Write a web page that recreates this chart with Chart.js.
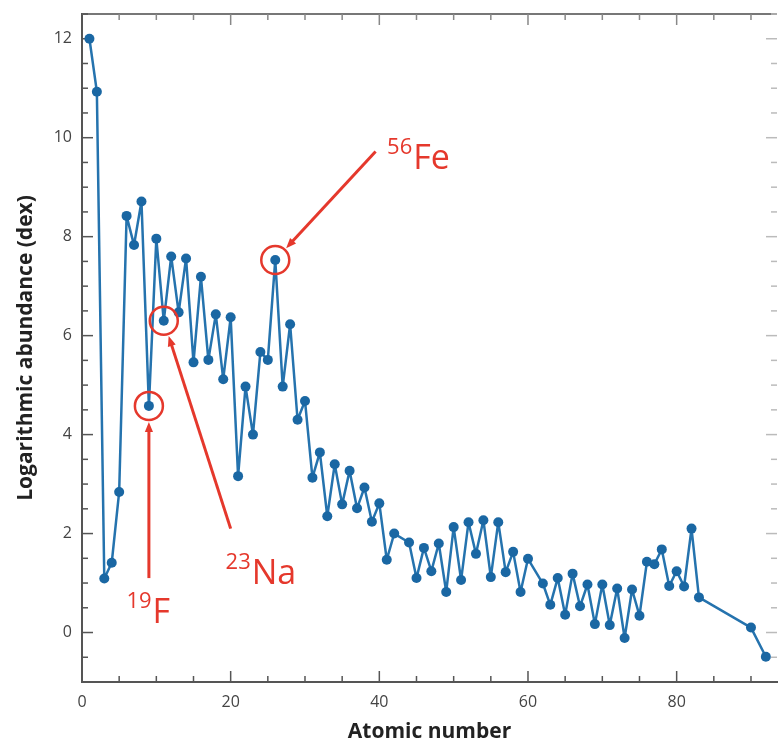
<!DOCTYPE html>
<html>
<head>
<meta charset="utf-8">
<script src="https://cdn.jsdelivr.net/npm/chart.js@4/dist/chart.umd.min.js"></script>
<style>
  html, body { margin: 0; padding: 0; background: #fff; }
  #wrap { width: 782px; height: 745px; }
</style>
</head>
<body>
<div id="wrap"><canvas id="myChart" width="782" height="745"></canvas></div>
<script>
'use strict';

// *******Data*******
let atomicNumbers = [1, 2, 3, 4, 5, 6, 7, 8, 9, 10,
  11, 12, 13, 14, 15, 16, 17, 18, 19, 20,
  21, 22, 23, 24, 25, 26, 27, 28, 29, 30,
  31, 32, 33, 34, 35, 36, 37, 38, 39, 40,
  41, 42, 44, 45, 46, 47, 48, 49, 50,
  51, 52, 53, 54, 55, 56, 57, 58, 59, 60,
  62, 63, 64, 65, 66, 67, 68, 69, 70,
  71, 72, 73, 74, 75, 76, 77, 78, 79, 80,
  81, 82, 83, 90, 92];

let abundances = [12.00, 10.93, 1.09, 1.41, 2.84, 8.42, 7.83, 8.71, 4.58, 7.96,
  6.30, 7.60, 6.47, 7.56, 5.46, 7.19, 5.51, 6.43, 5.12, 6.37,
  3.16, 4.97, 4.00, 5.67, 5.51, 7.53, 4.97, 6.23, 4.30, 4.68,
  3.13, 3.64, 2.35, 3.40, 2.59, 3.27, 2.51, 2.93, 2.24, 2.61,
  1.47, 2.00, 1.82, 1.10, 1.71, 1.24, 1.80, 0.82, 2.13,
  1.06, 2.23, 1.59, 2.27, 1.12, 2.23, 1.22, 1.63, 0.82, 1.49,
  0.99, 0.56, 1.10, 0.36, 1.19, 0.53, 0.97, 0.17, 0.97,
  0.15, 0.89, -0.11, 0.87, 0.34, 1.43, 1.38, 1.68, 0.94, 1.24,
  0.93, 2.10, 0.71, 0.10, -0.49];

let xTickValues = [0, 20, 40, 60, 80];
let yTickValues = [0, 2, 4, 6, 8, 10, 12];

// highlighted isotopes: [atomic number, mass number, symbol]
let highlighted = [[9, 19, 'F'], [11, 23, 'Na'], [26, 56, 'Fe']];

// label anchors in data units: [tail x, tail y, label centre x, label baseline y]
let labelPlaces = {
  F: [9.0, 1.1, 8.85, 0.2],
  Na: [20.0, 2.1, 24.0, 0.98],
  Fe: [39.5, 9.72, 45.2, 9.36]
};

let blue = '#1a67a3';
let red = '#e5382c';

const ctx = document.getElementById('myChart').getContext('2d');

//*********Helper Functions****
function buildPoints(){
  let pts = [];
  for(let i = 0; i < atomicNumbers.length; i++){
    pts.push({x: atomicNumbers[i], y: abundances[i]});
  }
  return pts;
}

function strokeLine(c, x1, y1, x2, y2){
  c.beginPath();
  c.moveTo(x1, y1);
  c.lineTo(x2, y2);
  c.stroke();
}

function drawFrame(chart){
  let c = chart.ctx;
  let area = chart.chartArea;
  let xs = chart.scales.x;
  let ys = chart.scales.y;
  c.save();
  // top line
  c.strokeStyle = '#777';
  c.lineWidth = 2;
  strokeLine(c, area.left, area.top, area.right, area.top);
  c.lineWidth = 1.5;
  for(let v = 5; v < xs.max; v += 5){
    let px = xs.getPixelForValue(v);
    let len = v % 20 === 0 ? 11 : 6;
    c.strokeStyle = '#555';
    strokeLine(c, px, area.bottom, px, area.bottom - len);
    c.strokeStyle = '#888';
    strokeLine(c, px, area.top, px, area.top + len);
  }
  for(let v = -0.5; v <= ys.max; v += 0.5){
    let py = ys.getPixelForValue(v);
    let len = v % 2 === 0 ? 11 : 6;
    c.strokeStyle = '#555';
    strokeLine(c, area.left, py, area.left + len, py);
    c.strokeStyle = '#bbb';
    strokeLine(c, area.right, py, area.right - len, py);
  }
  c.restore();
}

function drawArrow(c, x1, y1, x2, y2){
  let ang = Math.atan2(y2 - y1, x2 - x1);
  let head = 11;
  strokeLine(c, x1, y1, x2 - Math.cos(ang) * head * 0.7, y2 - Math.sin(ang) * head * 0.7);
  c.beginPath();
  c.moveTo(x2, y2);
  c.lineTo(x2 - head * Math.cos(ang - 0.38), y2 - head * Math.sin(ang - 0.38));
  c.lineTo(x2 - head * Math.cos(ang + 0.38), y2 - head * Math.sin(ang + 0.38));
  c.closePath();
  c.fill();
}

function drawAnnotations(chart){
  let c = chart.ctx;
  let xs = chart.scales.x;
  let ys = chart.scales.y;
  let r = 14;
  c.save();
  c.strokeStyle = red;
  c.fillStyle = red;
  for(let i = 0; i < highlighted.length; i++){
    let z = highlighted[i][0];
    let mass = String(highlighted[i][1]);
    let sym = highlighted[i][2];
    let idx = atomicNumbers.indexOf(z);
    let cx = xs.getPixelForValue(z);
    let cy = ys.getPixelForValue(abundances[idx]);
    c.lineWidth = 2.5;
    c.beginPath();
    c.arc(cx, cy, r, 0, Math.PI * 2);
    c.stroke();

    let place = labelPlaces[sym];
    let tx = xs.getPixelForValue(place[0]);
    let ty = ys.getPixelForValue(place[1]);
    let d = Math.hypot(cx - tx, cy - ty);
    let tipX = cx + (tx - cx) * (r + 2) / d;
    let tipY = cy + (ty - cy) * (r + 2) / d;
    c.lineWidth = 3;
    drawArrow(c, tx, ty, tipX, tipY);

    // label: superscript mass number + symbol
    let lx = xs.getPixelForValue(place[2]);
    let ly = ys.getPixelForValue(place[3]);
    c.font = '22px "Open Sans"';
    let supW = c.measureText(mass).width;
    c.font = '34px "Open Sans"';
    let symW = c.measureText(sym).width;
    let left = lx - (supW + symW) / 2;
    c.textBaseline = 'alphabetic';
    c.textAlign = 'left';
    c.fillText(sym, left + supW + 1, ly);
    c.font = '22px "Open Sans"';
    c.fillText(mass, left, ly - 15);
  }
  c.restore();
}

//*******Chart*******
let myChartObj = {
  type: 'scatter',
  data: {
    datasets: [{
      label: 'Solar abundance',
      data: buildPoints(),
      showLine: true,
      borderColor: '#2573ae',
      borderWidth: 2.5,
      borderJoinStyle: 'round',
      backgroundColor: blue,
      pointBackgroundColor: blue,
      pointBorderColor: blue,
      pointRadius: 5,
      pointBorderWidth: 0
    }]
  },
  options: {
    responsive: false,
    animation: false,
    devicePixelRatio: 1,
    layout: {padding: {top: 14, right: 0, left: 0, bottom: 0}},
    plugins: {
      legend: {display: false},
      tooltip: {enabled: false}
    },
    scales: {
      x: {
        type: 'linear',
        min: 0,
        max: 93.5,
        afterFit: function(scale){
          scale.height = 63;
          scale.paddingLeft = 0;
          scale.paddingRight = 0;
        },
        afterBuildTicks: function(scale){
          scale.ticks = xTickValues.map(function(v){ return {value: v}; });
        },
        grid: {display: false, drawTicks: false},
        border: {display: true, color: '#555', width: 2},
        ticks: {
          color: '#444',
          padding: 11,
          maxRotation: 0,
          font: {family: '"Open Sans"', size: 16}
        },
        title: {
          display: true,
          text: 'Atomic number',
          color: '#222',
          padding: {top: 0, bottom: 0},
          font: {family: '"Open Sans"', size: 21, weight: 'bold', lineHeight: 1.2}
        }
      },
      y: {
        type: 'linear',
        min: -1,
        max: 12.5,
        afterFit: function(scale){
          scale.width = 82;
          scale.paddingTop = 0;
          scale.paddingBottom = 0;
        },
        afterBuildTicks: function(scale){
          scale.ticks = yTickValues.map(function(v){ return {value: v}; });
        },
        grid: {display: false, drawTicks: false},
        border: {display: true, color: '#555', width: 2},
        ticks: {
          color: '#444',
          padding: 10,
          font: {family: '"Open Sans"', size: 16}
        },
        title: {
          display: true,
          text: 'Logarithmic abundance (dex)',
          color: '#222',
          padding: {top: 13, bottom: 0},
          font: {family: '"Open Sans"', size: 21, weight: 'bold', lineHeight: 1.2}
        }
      }
    }
  },
  plugins: [{
    id: 'frameAndNotes',
    beforeDatasetsDraw: function(chart){ drawFrame(chart); },
    afterDatasetsDraw: function(chart){ drawAnnotations(chart); }
  }]
};

const myChart = new Chart(ctx, myChartObj);
</script>
</body>
</html>
